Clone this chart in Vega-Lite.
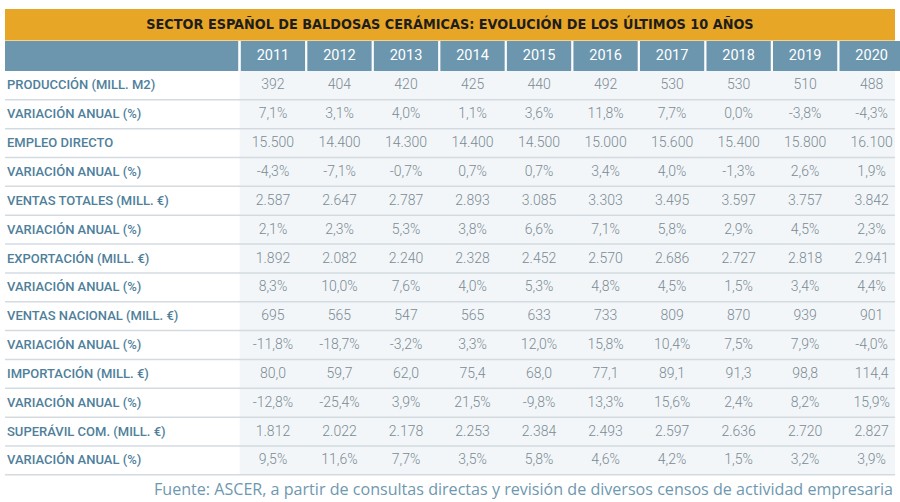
{
  "$schema": "https://vega.github.io/schema/vega-lite/v6.json",
  "width": 900,
  "height": 502,
  "autosize": {"type": "fit", "contains": "padding"},
  "padding": 0,
  "background": "#ffffff",
  "config": {"view": {"stroke": null}},
  "datasets": {
    "title": [{"t": "SECTOR ESPAÑOL DE BALDOSAS CERÁMICAS: EVOLUCIÓN DE LOS ÚLTIMOS 10 AÑOS"}],
    "footer": [{"t": "Fuente: ASCER, a partir de consultas directas y revisión de diversos censos de actividad empresaria"}],
    "years": [{"year": 2011}, {"year": 2012}, {"year": 2013}, {"year": 2014}, {"year": 2015}, {"year": 2016}, {"year": 2017}, {"year": 2018}, {"year": 2019}, {"year": 2020}],
    "rows": [
      {"r": 0, "label": "PRODUCCIÓN (MILL. M2)"},
      {"r": 1, "label": "VARIACIÓN ANUAL (%)"},
      {"r": 2, "label": "EMPLEO DIRECTO"},
      {"r": 3, "label": "VARIACIÓN ANUAL (%)"},
      {"r": 4, "label": "VENTAS TOTALES (MILL. €)"},
      {"r": 5, "label": "VARIACIÓN ANUAL (%)"},
      {"r": 6, "label": "EXPORTACIÓN (MILL. €)"},
      {"r": 7, "label": "VARIACIÓN ANUAL (%)"},
      {"r": 8, "label": "VENTAS NACIONAL (MILL. €)"},
      {"r": 9, "label": "VARIACIÓN ANUAL (%)"},
      {"r": 10, "label": "IMPORTACIÓN (MILL. €)"},
      {"r": 11, "label": "VARIACIÓN ANUAL (%)"},
      {"r": 12, "label": "SUPERÁVIL COM. (MILL. €)"},
      {"r": 13, "label": "VARIACIÓN ANUAL (%)"}
    ],
    "cells": [
      {"r": 0, "year": 2011, "v": "392"}, {"r": 0, "year": 2012, "v": "404"}, {"r": 0, "year": 2013, "v": "420"}, {"r": 0, "year": 2014, "v": "425"}, {"r": 0, "year": 2015, "v": "440"}, {"r": 0, "year": 2016, "v": "492"}, {"r": 0, "year": 2017, "v": "530"}, {"r": 0, "year": 2018, "v": "530"}, {"r": 0, "year": 2019, "v": "510"}, {"r": 0, "year": 2020, "v": "488"},
      {"r": 1, "year": 2011, "v": "7,1%"}, {"r": 1, "year": 2012, "v": "3,1%"}, {"r": 1, "year": 2013, "v": "4,0%"}, {"r": 1, "year": 2014, "v": "1,1%"}, {"r": 1, "year": 2015, "v": "3,6%"}, {"r": 1, "year": 2016, "v": "11,8%"}, {"r": 1, "year": 2017, "v": "7,7%"}, {"r": 1, "year": 2018, "v": "0,0%"}, {"r": 1, "year": 2019, "v": "-3,8%"}, {"r": 1, "year": 2020, "v": "-4,3%"},
      {"r": 2, "year": 2011, "v": "15.500"}, {"r": 2, "year": 2012, "v": "14.400"}, {"r": 2, "year": 2013, "v": "14.300"}, {"r": 2, "year": 2014, "v": "14.400"}, {"r": 2, "year": 2015, "v": "14.500"}, {"r": 2, "year": 2016, "v": "15.000"}, {"r": 2, "year": 2017, "v": "15.600"}, {"r": 2, "year": 2018, "v": "15.400"}, {"r": 2, "year": 2019, "v": "15.800"}, {"r": 2, "year": 2020, "v": "16.100"},
      {"r": 3, "year": 2011, "v": "-4,3%"}, {"r": 3, "year": 2012, "v": "-7,1%"}, {"r": 3, "year": 2013, "v": "-0,7%"}, {"r": 3, "year": 2014, "v": "0,7%"}, {"r": 3, "year": 2015, "v": "0,7%"}, {"r": 3, "year": 2016, "v": "3,4%"}, {"r": 3, "year": 2017, "v": "4,0%"}, {"r": 3, "year": 2018, "v": "-1,3%"}, {"r": 3, "year": 2019, "v": "2,6%"}, {"r": 3, "year": 2020, "v": "1,9%"},
      {"r": 4, "year": 2011, "v": "2.587"}, {"r": 4, "year": 2012, "v": "2.647"}, {"r": 4, "year": 2013, "v": "2.787"}, {"r": 4, "year": 2014, "v": "2.893"}, {"r": 4, "year": 2015, "v": "3.085"}, {"r": 4, "year": 2016, "v": "3.303"}, {"r": 4, "year": 2017, "v": "3.495"}, {"r": 4, "year": 2018, "v": "3.597"}, {"r": 4, "year": 2019, "v": "3.757"}, {"r": 4, "year": 2020, "v": "3.842"},
      {"r": 5, "year": 2011, "v": "2,1%"}, {"r": 5, "year": 2012, "v": "2,3%"}, {"r": 5, "year": 2013, "v": "5,3%"}, {"r": 5, "year": 2014, "v": "3,8%"}, {"r": 5, "year": 2015, "v": "6,6%"}, {"r": 5, "year": 2016, "v": "7,1%"}, {"r": 5, "year": 2017, "v": "5,8%"}, {"r": 5, "year": 2018, "v": "2,9%"}, {"r": 5, "year": 2019, "v": "4,5%"}, {"r": 5, "year": 2020, "v": "2,3%"},
      {"r": 6, "year": 2011, "v": "1.892"}, {"r": 6, "year": 2012, "v": "2.082"}, {"r": 6, "year": 2013, "v": "2.240"}, {"r": 6, "year": 2014, "v": "2.328"}, {"r": 6, "year": 2015, "v": "2.452"}, {"r": 6, "year": 2016, "v": "2.570"}, {"r": 6, "year": 2017, "v": "2.686"}, {"r": 6, "year": 2018, "v": "2.727"}, {"r": 6, "year": 2019, "v": "2.818"}, {"r": 6, "year": 2020, "v": "2.941"},
      {"r": 7, "year": 2011, "v": "8,3%"}, {"r": 7, "year": 2012, "v": "10,0%"}, {"r": 7, "year": 2013, "v": "7,6%"}, {"r": 7, "year": 2014, "v": "4,0%"}, {"r": 7, "year": 2015, "v": "5,3%"}, {"r": 7, "year": 2016, "v": "4,8%"}, {"r": 7, "year": 2017, "v": "4,5%"}, {"r": 7, "year": 2018, "v": "1,5%"}, {"r": 7, "year": 2019, "v": "3,4%"}, {"r": 7, "year": 2020, "v": "4,4%"},
      {"r": 8, "year": 2011, "v": "695"}, {"r": 8, "year": 2012, "v": "565"}, {"r": 8, "year": 2013, "v": "547"}, {"r": 8, "year": 2014, "v": "565"}, {"r": 8, "year": 2015, "v": "633"}, {"r": 8, "year": 2016, "v": "733"}, {"r": 8, "year": 2017, "v": "809"}, {"r": 8, "year": 2018, "v": "870"}, {"r": 8, "year": 2019, "v": "939"}, {"r": 8, "year": 2020, "v": "901"},
      {"r": 9, "year": 2011, "v": "-11,8%"}, {"r": 9, "year": 2012, "v": "-18,7%"}, {"r": 9, "year": 2013, "v": "-3,2%"}, {"r": 9, "year": 2014, "v": "3,3%"}, {"r": 9, "year": 2015, "v": "12,0%"}, {"r": 9, "year": 2016, "v": "15,8%"}, {"r": 9, "year": 2017, "v": "10,4%"}, {"r": 9, "year": 2018, "v": "7,5%"}, {"r": 9, "year": 2019, "v": "7,9%"}, {"r": 9, "year": 2020, "v": "-4,0%"},
      {"r": 10, "year": 2011, "v": "80,0"}, {"r": 10, "year": 2012, "v": "59,7"}, {"r": 10, "year": 2013, "v": "62,0"}, {"r": 10, "year": 2014, "v": "75,4"}, {"r": 10, "year": 2015, "v": "68,0"}, {"r": 10, "year": 2016, "v": "77,1"}, {"r": 10, "year": 2017, "v": "89,1"}, {"r": 10, "year": 2018, "v": "91,3"}, {"r": 10, "year": 2019, "v": "98,8"}, {"r": 10, "year": 2020, "v": "114,4"},
      {"r": 11, "year": 2011, "v": "-12,8%"}, {"r": 11, "year": 2012, "v": "-25,4%"}, {"r": 11, "year": 2013, "v": "3,9%"}, {"r": 11, "year": 2014, "v": "21,5%"}, {"r": 11, "year": 2015, "v": "-9,8%"}, {"r": 11, "year": 2016, "v": "13,3%"}, {"r": 11, "year": 2017, "v": "15,6%"}, {"r": 11, "year": 2018, "v": "2,4%"}, {"r": 11, "year": 2019, "v": "8,2%"}, {"r": 11, "year": 2020, "v": "15,9%"},
      {"r": 12, "year": 2011, "v": "1.812"}, {"r": 12, "year": 2012, "v": "2.022"}, {"r": 12, "year": 2013, "v": "2.178"}, {"r": 12, "year": 2014, "v": "2.253"}, {"r": 12, "year": 2015, "v": "2.384"}, {"r": 12, "year": 2016, "v": "2.493"}, {"r": 12, "year": 2017, "v": "2.597"}, {"r": 12, "year": 2018, "v": "2.636"}, {"r": 12, "year": 2019, "v": "2.720"}, {"r": 12, "year": 2020, "v": "2.827"},
      {"r": 13, "year": 2011, "v": "9,5%"}, {"r": 13, "year": 2012, "v": "11,6%"}, {"r": 13, "year": 2013, "v": "7,7%"}, {"r": 13, "year": 2014, "v": "3,5%"}, {"r": 13, "year": 2015, "v": "5,8%"}, {"r": 13, "year": 2016, "v": "4,6%"}, {"r": 13, "year": 2017, "v": "4,2%"}, {"r": 13, "year": 2018, "v": "1,5%"}, {"r": 13, "year": 2019, "v": "3,2%"}, {"r": 13, "year": 2020, "v": "3,9%"}
    ]
  },
  "layer": [
    {
      "data": {"name": "title"},
      "mark": {"type": "rect", "color": "#E8A626", "clip": true},
      "encoding": {
        "x": {"datum": 2006.972, "type": "quantitative", "scale": {"domain": [2006.972, 2020.351], "nice": false, "zero": false}, "axis": null},
        "x2": {"datum": 2020.351},
        "y": {"datum": -2.648, "type": "quantitative", "scale": {"domain": [-2.961, 14.44], "nice": false, "zero": false, "reverse": true}, "axis": null},
        "y2": {"datum": -1.556}
      }
    },
    {
      "data": {"name": "title"},
      "mark": {"type": "text", "font": "'DejaVu Sans Condensed', Roboto, sans-serif", "fontWeight": "bold", "fontSize": 14.3, "color": "#1d1d1b", "align": "center", "baseline": "middle"},
      "encoding": {
        "x": {"datum": 2013.661, "type": "quantitative"},
        "y": {"datum": -2.11, "type": "quantitative"},
        "text": {"field": "t"}
      }
    },
    {
      "data": {"name": "title"},
      "mark": {"type": "rect", "color": "#6B96AD", "clip": true},
      "encoding": {
        "x": {"datum": 2006.972, "type": "quantitative"},
        "x2": {"datum": 2010.478},
        "y": {"datum": -1.539, "type": "quantitative"},
        "y2": {"datum": -0.5}
      }
    },
    {
      "data": {"name": "years"},
      "mark": {"type": "bar", "color": "#6B96AD", "width": 64.3, "clip": true},
      "encoding": {
        "x": {"field": "year", "type": "quantitative"},
        "y": {"datum": -1.539, "type": "quantitative"},
        "y2": {"datum": -0.5}
      }
    },
    {
      "data": {"name": "title"},
      "mark": {"type": "rect", "color": "#F3F6F8", "clip": true},
      "encoding": {
        "x": {"datum": 2010.5, "type": "quantitative"},
        "x2": {"datum": 2020.351},
        "y": {"datum": -0.5, "type": "quantitative"},
        "y2": {"datum": 13.5}
      }
    },
    {
      "data": {"name": "rows"},
      "mark": {"type": "rule", "color": "#D3DBE0", "strokeWidth": 1.5, "yOffset": 14.4, "clip": true},
      "encoding": {
        "x": {"datum": 2006.972, "type": "quantitative"},
        "x2": {"datum": 2020.351},
        "y": {"field": "r", "type": "quantitative"}
      }
    },
    {
      "data": {"name": "years"},
      "mark": {"type": "text", "font": "Roboto", "fontSize": 14.5, "color": "#ffffff", "align": "center", "baseline": "middle"},
      "encoding": {
        "x": {"field": "year", "type": "quantitative"},
        "y": {"datum": -1.02, "type": "quantitative"},
        "text": {"field": "year", "type": "ordinal"}
      }
    },
    {
      "data": {"name": "rows"},
      "mark": {"type": "text", "font": "Roboto", "fontWeight": 500, "fontSize": 13, "color": "#4F7F9B", "align": "left", "baseline": "middle", "dx": 2},
      "encoding": {
        "x": {"datum": 2006.972, "type": "quantitative"},
        "y": {"field": "r", "type": "quantitative"},
        "text": {"field": "label"}
      }
    },
    {
      "data": {"name": "cells"},
      "mark": {"type": "text", "font": "Roboto", "fontWeight": 300, "fontSize": 14, "color": "#7A8B95", "align": "center", "baseline": "middle"},
      "encoding": {
        "x": {"field": "year", "type": "quantitative"},
        "y": {"field": "r", "type": "quantitative"},
        "text": {"field": "v"}
      }
    },
    {
      "data": {"name": "footer"},
      "mark": {"type": "text", "font": "Open Sans", "fontSize": 16.1, "color": "#6E98B0", "align": "right", "baseline": "middle", "dx": -2},
      "encoding": {
        "x": {"datum": 2020.351, "type": "quantitative"},
        "y": {"datum": 14.02, "type": "quantitative"},
        "text": {"field": "t"}
      }
    }
  ]
}
